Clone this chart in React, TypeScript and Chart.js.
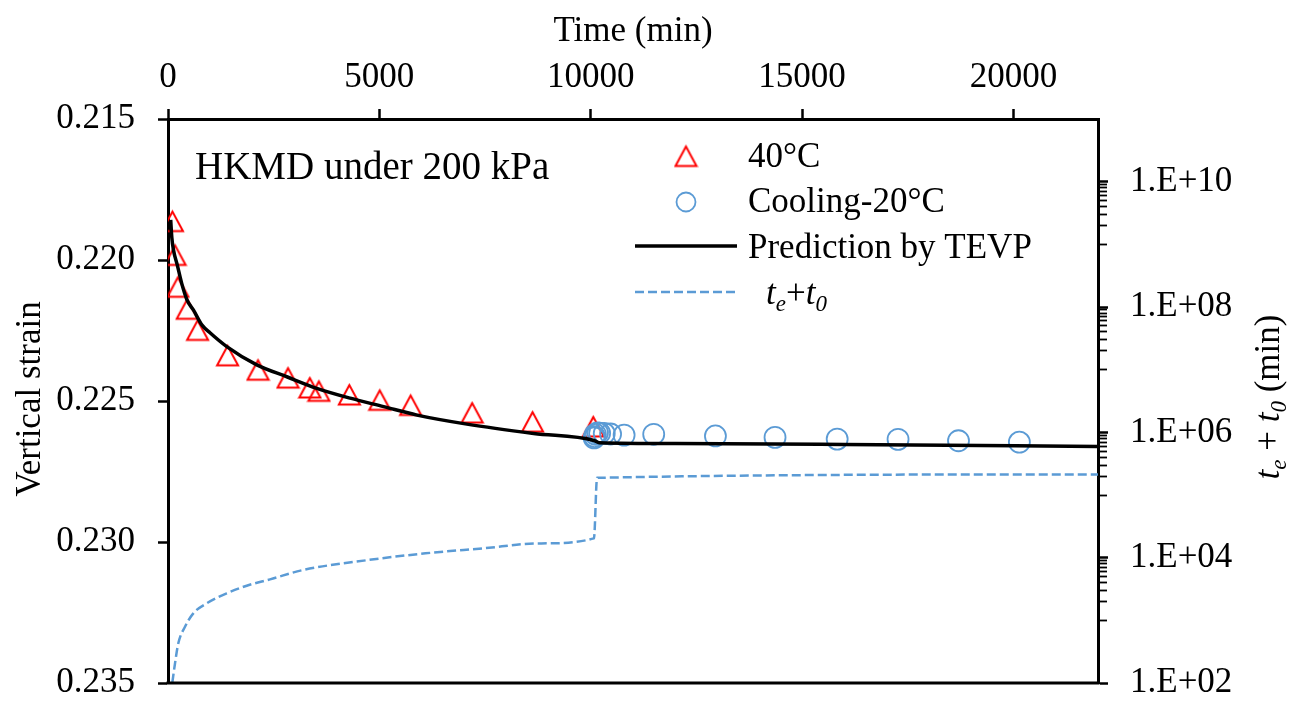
import React, { useEffect, useRef } from 'react';
import { Chart, registerables } from 'chart.js';

Chart.register(...registerables);

// ---------- data ----------
const xTicks = [0, 5000, 10000, 15000, 20000];
const yTicks = [0.215, 0.22, 0.225, 0.23, 0.235];
const y2Ticks = [
  1e2,
  1e3, 2e3, 3e3, 4e3, 5e3, 6e3, 7e3, 8e3, 9e3,
  1e4,
  1e5, 2e5, 3e5, 4e5, 5e5, 6e5, 7e5, 8e5, 9e5,
  1e6,
  1e7, 2e7, 3e7, 4e7, 5e7, 6e7, 7e7, 8e7, 9e7,
  1e8,
  1e9, 2e9, 3e9, 4e9, 5e9, 6e9, 7e9, 8e9, 9e9,
  1e10,
];

// 40°C measured (triangles)
const hotTime = [105, 168, 235, 455, 700, 1410, 2130, 2840, 3355, 3570, 4290, 5010, 5740, 7195, 8625, 10060];
const hotStrain = [0.21862, 0.21982, 0.22095, 0.22173, 0.22248, 0.22338, 0.22389, 0.22417, 0.22452, 0.22464, 0.22477, 0.22496, 0.22514, 0.22541, 0.22573, 0.2259];

// Cooling-20°C measured (circles)
const coolTime = [10080, 10090, 10110, 10160, 10210, 10320, 10470, 10790, 11490, 12950, 14360, 15830, 17270, 18700, 20140];
const coolStrain = [0.22631, 0.22626, 0.22618, 0.22613, 0.22614, 0.22615, 0.22617, 0.22621, 0.22618, 0.22624, 0.22629, 0.22635, 0.22636, 0.22641, 0.22646];

// Prediction by TEVP (solid black)
const tevpTime = [64, 90, 130, 220, 324, 450, 600, 800, 1000, 1390, 2100, 2810, 3520, 4310, 5100, 5890, 7070, 8650, 10080, 10200, 12000, 16000, 22000];
const tevpStrain = [0.21858, 0.2192, 0.21965, 0.22018, 0.22083, 0.22142, 0.22177, 0.2223, 0.22259, 0.22307, 0.22372, 0.22414, 0.22455, 0.2249, 0.2252, 0.2255, 0.22582, 0.22615, 0.2264, 0.22648, 0.22651, 0.22654, 0.22661];

// te + t0 (dashed, right log axis)
const teTime = [102, 166, 244, 402, 599, 916, 1389, 1862, 2414, 3190, 4731, 6090, 7449, 8807, 10076, 10150, 22000];
const teValue = [101, 206, 430, 791, 1294, 1866, 2696, 3565, 4510, 6340, 9160, 11720, 14070, 16900, 20300, 188000, 213000];

const FONT = '"Liberation Serif", "Times New Roman", serif';
const RED = '#FF0000';
const BLUE = '#5B9BD5';

function makeTriangle(): HTMLCanvasElement {
  const c = document.createElement('canvas');
  c.width = 25;
  c.height = 25;
  const g = c.getContext('2d') as CanvasRenderingContext2D;
  g.strokeStyle = RED;
  g.lineWidth = 2;
  g.lineJoin = 'miter';
  g.beginPath();
  g.moveTo(12.5, 3);
  g.lineTo(2, 22.5);
  g.lineTo(23, 22.5);
  g.closePath();
  g.stroke();
  return c;
}

type Part = { text: string; italic?: boolean; sub?: boolean };

function drawRich(ctx: CanvasRenderingContext2D, parts: Part[], x: number, y: number, size: number, center: boolean) {
  const fontOf = (p: Part) => `${p.italic ? 'italic ' : ''}${p.sub ? Math.round(size * 0.65) : size}px ${FONT}`;
  let total = 0;
  const widths = parts.map((p) => {
    ctx.font = fontOf(p);
    const w = ctx.measureText(p.text).width;
    total += w;
    return w;
  });
  let cx = center ? x - total / 2 : x;
  ctx.textAlign = 'left';
  ctx.textBaseline = 'alphabetic';
  parts.forEach((p, i) => {
    ctx.font = fontOf(p);
    ctx.fillText(p.text, cx, y + (p.sub ? size * 0.2 : 0));
    cx += widths[i];
  });
}

function zeroPad(s: any) {
  s.paddingTop = 0;
  s.paddingBottom = 0;
  s.paddingLeft = 0;
  s.paddingRight = 0;
}

export default function App() {
  const ref = useRef<HTMLCanvasElement | null>(null);

  useEffect(() => {
    if (!ref.current) return;
    const tri = makeTriangle();

    const decor = {
      id: 'decor',
      afterDraw(chart: any) {
        const ctx: CanvasRenderingContext2D = chart.ctx;
        const ca = chart.chartArea;
        ctx.save();
        // bottom frame line
        ctx.strokeStyle = '#000';
        ctx.lineWidth = 3;
        ctx.beginPath();
        ctx.moveTo(ca.left - 1.5, ca.bottom);
        ctx.lineTo(ca.right + 1.5, ca.bottom);
        ctx.stroke();

        ctx.fillStyle = '#000';
        // annotation
        ctx.font = `39px ${FONT}`;
        ctx.textAlign = 'left';
        ctx.textBaseline = 'alphabetic';
        ctx.fillText('HKMD under 200 kPa', 195, 179);

        // top axis title
        ctx.font = `35px ${FONT}`;
        ctx.textAlign = 'center';
        ctx.fillText('Time (min)', 633, 41);

        // left axis title
        ctx.save();
        ctx.translate(40, 399);
        ctx.rotate(-Math.PI / 2);
        ctx.textAlign = 'center';
        ctx.textBaseline = 'alphabetic';
        ctx.font = `35px ${FONT}`;
        ctx.fillText('Vertical strain', 0, 0);
        ctx.restore();

        // right axis title
        ctx.save();
        ctx.translate(1279, 397);
        ctx.rotate(-Math.PI / 2);
        drawRich(ctx, [
          { text: 't', italic: true },
          { text: 'e', italic: true, sub: true },
          { text: ' + ' },
          { text: 't', italic: true },
          { text: '0', italic: true, sub: true },
          { text: ' (min)' },
        ], 0, 0, 35, true);
        ctx.restore();

        // legend
        ctx.drawImage(tri, 686 - tri.width / 2, 156 - tri.height / 2);
        ctx.strokeStyle = BLUE;
        ctx.lineWidth = 1.8;
        ctx.beginPath();
        ctx.arc(686, 202, 9.5, 0, Math.PI * 2);
        ctx.stroke();
        ctx.strokeStyle = '#000';
        ctx.lineWidth = 3.5;
        ctx.beginPath();
        ctx.moveTo(635, 246);
        ctx.lineTo(737, 246);
        ctx.stroke();
        ctx.strokeStyle = BLUE;
        ctx.lineWidth = 2.5;
        ctx.setLineDash([9, 4]);
        ctx.beginPath();
        ctx.moveTo(635, 292);
        ctx.lineTo(737, 292);
        ctx.stroke();
        ctx.setLineDash([]);

        ctx.fillStyle = '#000';
        ctx.font = `35px ${FONT}`;
        ctx.textAlign = 'left';
        ctx.textBaseline = 'alphabetic';
        ctx.fillText('40°C', 748, 167);
        ctx.fillText('Cooling-20°C', 748, 212);
        ctx.fillText('Prediction by TEVP', 748, 258);
        drawRich(ctx, [
          { text: 't', italic: true },
          { text: 'e', italic: true, sub: true },
          { text: '+' },
          { text: 't', italic: true },
          { text: '0', italic: true, sub: true },
        ], 766, 304, 35, false);
        ctx.restore();
      },
    };

    const tickFont = { family: FONT, size: 35 };

    const chart = new Chart(ref.current, {
      type: 'scatter',
      data: {
        datasets: [
          {
            label: 'te+t0',
            data: teTime.map((t, i) => ({ x: t, y: teValue[i] })),
            xAxisID: 'x',
            yAxisID: 'y2',
            showLine: true,
            borderColor: BLUE,
            borderWidth: 2.5,
            borderDash: [9, 4],
            pointRadius: 0,
            cubicInterpolationMode: 'monotone',
          } as any,
          {
            label: 'Prediction by TEVP',
            data: tevpTime.map((t, i) => ({ x: t, y: tevpStrain[i] })),
            xAxisID: 'x',
            yAxisID: 'y',
            showLine: true,
            borderColor: '#000',
            borderWidth: 3.5,
            pointRadius: 0,
            cubicInterpolationMode: 'monotone',
          } as any,
          {
            label: 'Cooling-20°C',
            data: coolTime.map((t, i) => ({ x: t, y: coolStrain[i] })),
            xAxisID: 'x',
            yAxisID: 'y',
            pointStyle: 'circle',
            pointRadius: 10.5,
            borderColor: BLUE,
            borderWidth: 1.8,
            backgroundColor: 'rgba(0,0,0,0)',
          } as any,
          {
            label: '40°C',
            data: hotTime.map((t, i) => ({ x: t, y: hotStrain[i] })),
            xAxisID: 'x',
            yAxisID: 'y',
            pointStyle: tri,
            pointRadius: 12,
            borderColor: RED,
          } as any,
        ],
      },
      options: {
        responsive: false,
        animation: false,
        events: [],
        devicePixelRatio: 1,
        layout: { padding: { left: 0, right: 0, top: 0, bottom: 19 } },
        plugins: { legend: { display: false }, tooltip: { enabled: false } },
        scales: {
          x: {
            type: 'linear',
            position: 'top',
            min: 0,
            max: 22000,
            afterBuildTicks: (s: any) => { s.ticks = xTicks.map((v) => ({ value: v })); },
            afterFit: (s: any) => { s.height = 119; zeroPad(s); },
            ticks: { font: tickFont, color: '#000', padding: 10, autoSkip: false, maxRotation: 0, callback: (v: any) => String(v) },
            grid: { drawOnChartArea: false, drawTicks: true, tickLength: 10, tickWidth: 2.5, tickColor: '#000' },
            border: { display: true, color: '#000', width: 3 },
          },
          y: {
            type: 'linear',
            position: 'left',
            reverse: true,
            min: 0.215,
            max: 0.235,
            afterBuildTicks: (s: any) => { s.ticks = yTicks.map((v) => ({ value: v })); },
            afterFit: (s: any) => { s.width = 168; zeroPad(s); },
            ticks: { font: tickFont, color: '#000', padding: 23, autoSkip: false, callback: (v: any) => Number(v).toFixed(3) },
            grid: { drawOnChartArea: false, drawTicks: true, tickLength: 10, tickWidth: 2.5, tickColor: '#000' },
            border: { display: true, color: '#000', width: 3 },
          },
          y2: {
            type: 'logarithmic',
            position: 'right',
            min: 100,
            max: 1e11,
            afterBuildTicks: (s: any) => { s.ticks = y2Ticks.map((v) => ({ value: v })); },
            afterFit: (s: any) => { s.width = 203; zeroPad(s); },
            ticks: {
              font: tickFont,
              color: '#000',
              padding: 22,
              autoSkip: false,
              callback: (v: any) => {
                const e = Math.round(Math.log10(Number(v)));
                if (Math.abs(Number(v) - Math.pow(10, e)) / Number(v) < 1e-9 && e % 2 === 0) {
                  return '1.E+' + String(e).padStart(2, '0');
                }
                return '';
              },
            },
            grid: {
              drawOnChartArea: false,
              drawTicks: true,
              tickLength: 10,
              tickColor: '#000',
              tickWidth: (c: any) => {
                const v = c.tick ? c.tick.value : 0;
                const e = Math.log10(v);
                return Math.abs(e - Math.round(e)) < 1e-9 && Math.round(e) % 2 === 0 ? 2.5 : 1.8;
              },
              tickBorderDash: (c: any) => {
                const v = c.tick ? c.tick.value : 0;
                const e = Math.log10(v);
                return Math.abs(e - Math.round(e)) < 1e-9 && Math.round(e) % 2 === 0 ? [] : [7, 30];
              },
            },
            border: { display: true, color: '#000', width: 3 },
          },
        },
      } as any,
      plugins: [decor],
    });

    return () => chart.destroy();
  }, []);

  return (
    <div style={{ position: 'absolute', left: 0, top: 0, width: 1301, height: 702, background: '#fff' }}>
      <canvas ref={ref} width={1301} height={702} style={{ display: 'block', width: 1301, height: 702 }} />
    </div>
  );
}
